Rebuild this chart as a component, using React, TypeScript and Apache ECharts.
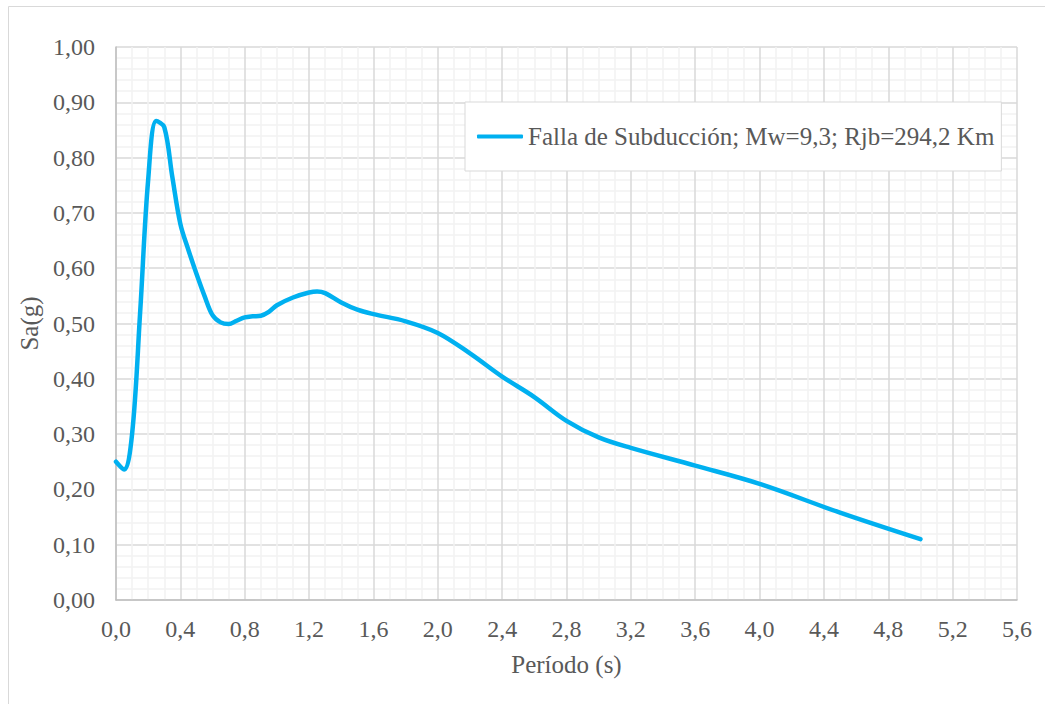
import React, { useEffect, useRef } from "react";
import * as echarts from "echarts";

const periods = [0, 0.05, 0.1, 0.15, 0.2, 0.25, 0.3, 0.35, 0.4, 0.45, 0.5, 0.55, 0.6, 0.65, 0.7, 0.75, 0.8, 0.85, 0.9, 0.95, 1.0, 1.1, 1.2, 1.25, 1.3, 1.4, 1.5, 1.6, 1.8, 2.0, 2.2, 2.4, 2.6, 2.8, 3.0, 3.2, 3.6, 4.0, 4.5, 5.0];
const saValues = [0.25, 0.236, 0.3, 0.52, 0.76, 0.866, 0.855, 0.765, 0.68, 0.633, 0.59, 0.55, 0.515, 0.502, 0.499, 0.505, 0.511, 0.513, 0.514, 0.521, 0.533, 0.547, 0.556, 0.558, 0.555, 0.538, 0.525, 0.517, 0.504, 0.483, 0.446, 0.404, 0.367, 0.324, 0.294, 0.275, 0.243, 0.21, 0.158, 0.11];
const seriesName = "Falla de Subducción; Mw=9,3; Rjb=294,2 Km";
const xTitle = "Período (s)";
const yTitle = "Sa(g)";

const FONT = "'Liberation Serif', 'Times New Roman', serif";
const TXT = "#595959";

export default function App() {
  const ref = useRef<HTMLDivElement>(null);
  useEffect(() => {
    if (!ref.current) return;
    const chart = echarts.init(ref.current, null, { renderer: "svg" });
    chart.setOption({
      animation: false,
      backgroundColor: "#ffffff",
      textStyle: { fontFamily: FONT },
      graphic: [
        { type: "line", shape: { x1: 8.5, y1: 6.5, x2: 1045, y2: 6.5 }, style: { stroke: "#d9d9d9", lineWidth: 1 } },
        { type: "line", shape: { x1: 8.5, y1: 6.5, x2: 8.5, y2: 704 }, style: { stroke: "#d9d9d9", lineWidth: 1 } },
      ],
      grid: { left: 116, right: 28, top: 47, bottom: 104, containLabel: false },
      legend: {
        left: 465,
        top: 102,
        padding: [22, 7, 22, 12],
        backgroundColor: "#ffffff",
        borderColor: "#d9d9d9",
        borderWidth: 1,
        itemWidth: 46,
        itemHeight: 4,
        itemGap: 0,
        textStyle: { fontFamily: FONT, fontSize: 25, color: TXT },
        data: [{ name: seriesName, icon: "roundRect" }],
      },
      xAxis: {
        type: "value",
        min: 0,
        max: 5.6,
        interval: 0.4,
        name: xTitle,
        nameLocation: "middle",
        nameGap: 52,
        nameTextStyle: { fontFamily: FONT, fontSize: 25, color: TXT },
        axisLine: { show: true, onZero: false, lineStyle: { color: "#bfbfbf", width: 1.5 } },
        axisTick: { show: false },
        axisLabel: {
          margin: 17,
          fontFamily: FONT,
          fontSize: 24,
          color: TXT,
          formatter: (v: number) => v.toFixed(1).replace(".", ","),
        },
        splitLine: { show: true, lineStyle: { color: "#d9d9d9", width: 1.5 } },
        minorTick: { show: false, splitNumber: 4 },
        minorSplitLine: { show: true, lineStyle: { color: "#f2f2f2", width: 1.5 } },
      },
      yAxis: {
        type: "value",
        min: 0,
        max: 1,
        interval: 0.1,
        name: yTitle,
        nameLocation: "middle",
        nameGap: 74,
        nameTextStyle: { fontFamily: FONT, fontSize: 25, color: TXT },
        axisLine: { show: true, lineStyle: { color: "#bfbfbf", width: 1.5 } },
        axisTick: { show: false },
        axisLabel: {
          margin: 21,
          fontFamily: FONT,
          fontSize: 24,
          color: TXT,
          formatter: (v: number) => v.toFixed(2).replace(".", ","),
        },
        splitLine: { show: true, lineStyle: { color: "#d9d9d9", width: 1.5 } },
        minorTick: { show: false, splitNumber: 5 },
        minorSplitLine: { show: true, lineStyle: { color: "#f2f2f2", width: 1.5 } },
      },
      series: [
        {
          name: seriesName,
          type: "line",
          data: periods.map((p, i) => [p, saValues[i]]),
          smooth: 0.35,
          symbol: "none",
          lineStyle: { color: "#00b0f0", width: 4.5, cap: "round", join: "round" },
          itemStyle: { color: "#00b0f0" },
        },
      ],
    });
    return () => chart.dispose();
  }, []);
  return (
    <div
      ref={ref}
      style={{ position: "fixed", left: 0, top: 0, width: 1045, height: 704 }}
    />
  );
}
